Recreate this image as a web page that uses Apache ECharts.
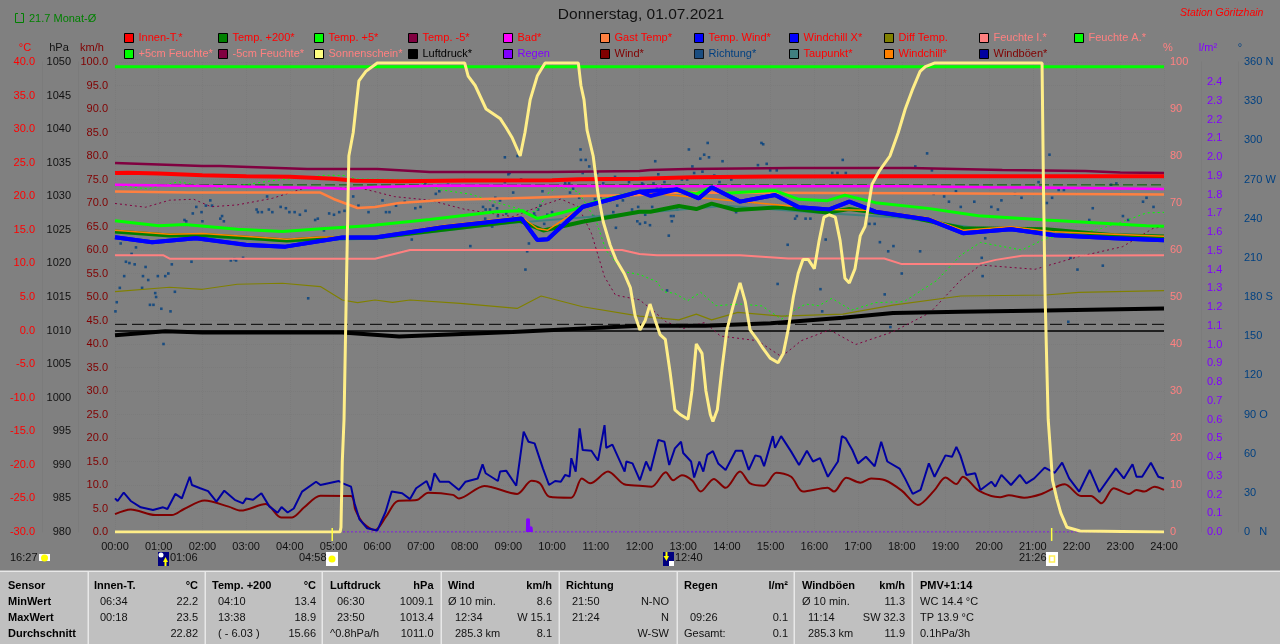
<!DOCTYPE html>
<html><head><meta charset="utf-8">
<style>html,body{margin:0;padding:0;background:#808080;overflow:hidden}#c{width:1280px;height:644px}</style>
<script src="https://cdn.jsdelivr.net/npm/echarts@6/dist/echarts.min.js"></script>
</head><body><div id="c"></div>
<script>
// Pairs are [hour of day, value]
const hourLabels=['00:00','01:00','02:00','03:00','04:00','05:00','06:00','07:00','08:00','09:00','10:00','11:00','12:00','13:00','14:00','15:00','16:00','17:00','18:00','19:00','20:00','21:00','22:00','23:00','24:00'];
const dirLabels={360:'360 N',270:'270 W',180:'180 S',90:'90 O',0:'0   N'};
const innenT=[[0,23.45],[.3,23.5],[1,23.4],[2,23.15],[3,23],[4,22.9],[5,22.6],[5.5,22.3],[6.5,22.25],[8,22.35],[10,22.4],[10.6,22.55],[12,22.6],[13.2,22.85],[15,22.95],[18,23],[21,23],[24,23]];
const temp200=[[0,14.75],[1.25,14.15],[2,14.25],[3.2,13.75],[3.93,13.4],[4.7,13.75],[5.95,13.85],[7.5,15],[9.27,16.35],[9.8,14.9],[10.7,16.2],[12,17.7],[12.25,17.7],[12.9,18.55],[13.3,18.1],[13.65,18.9],[14.2,17.95],[15.2,18.35],[16.3,17.6],[16.8,18.1],[18.2,16.9],[19.4,15.25],[21.3,15.1],[22.85,14.2],[24,14]];
const temp5=[[0,16.35],[1,15.6],[1.6,15.8],[2.8,15.1],[3.83,14.75],[4.8,15.2],[5.8,15.6],[7.2,16.55],[8.7,17.7],[9.3,17.85],[9.66,16.7],[10.2,17.5],[10.7,18.45],[11,19.2],[12,20.7],[12.7,21],[13.3,20.35],[13.65,21.35],[13.95,20.45],[15.1,20.85],[15.65,19.55],[16.3,19.35],[16.7,20.15],[17.4,19.05],[18.6,18.2],[19.75,17.1],[21.3,16.45],[23.6,15.6],[24,15.55]];
const tempM5=[[0,24.95],[1,24.75],[2,24.5],[2.4,24.5],[4.4,24.05],[6,24.05],[7.2,23.6],[9.9,23.6],[12,23.75],[12.25,23.9],[13.1,24.05],[15.5,24.2],[18.2,24.2],[20.3,23.9],[22.2,23.75],[23,23.55],[24,23.45]];
const bad=[[0,21.7],[2.4,21.5],[5,21.2],[5.33,21.1],[5.95,21.4],[7.5,21.6],[12,21.5],[18,21.5],[20,21.35],[21,21.3],[24,21.1]];
const gastTemp=[[0,20.7],[1.7,20.55],[4.7,20.55],[5,19.6],[5.55,18.25],[5.95,18.4],[6.5,19],[7.5,19.45],[9.1,19.7],[10.7,20.05],[12,20.2],[12.6,20.55],[18.4,20.45],[24,20.25]];
const tempWind=[[0,13.9],[.85,13.15],[1.85,13.75],[3,12.75],[3.9,12.5],[5.2,13.85],[5.95,13.85],[7.5,15.4],[9.3,16.7],[9.66,13.5],[9.9,13.6],[10.7,18.45],[12,20.7],[12.25,20.05],[12.86,21.05],[13.36,19.7],[13.65,21.35],[14.3,19.2],[15.1,20.2],[15.65,18.35],[16.34,18.05],[16.8,19.2],[17.4,17.7],[18.6,16.55],[19.4,14.5],[20.5,15.1],[21.5,14.2],[22.85,13.75],[24,13.45]];
const windchillX=[[0,13.9],[.85,13.15],[1.85,13.75],[3,12.8],[3.9,12.5],[5.2,13.85],[5.95,13.85],[7.5,15.4],[9.3,16.7],[9.66,13.5],[9.9,13.6],[10.7,18.4],[12,20.7],[12.86,21],[13.36,19.7],[13.65,21.3],[14.3,19.2],[15.1,20.2],[15.65,18.35],[16.34,18.05],[16.8,19.2],[17.4,17.7],[18.6,16.55],[19.4,14.5],[20.5,15.1],[21.5,14.2],[22.85,13.75],[24,13.45]];
const diffTemp=[[0,5.8],[1.25,6.45],[2,6.15],[2.8,6.9],[3.83,7.05],[4.7,6.55],[5.2,4.55],[5.55,4.15],[5.95,4.55],[6.35,4.2],[6.75,4.55],[7.9,4.05],[9.2,3.3],[9.75,5.15],[10.7,3.55],[12,2.15],[12.9,1.6],[13.3,2.45],[13.65,1.6],[14.25,2.7],[15.25,2.15],[16.65,2.45],[17.8,3.8],[19.35,5.15],[21.3,5.3],[22.05,5.7],[24,5.95]];
const feuchteI=[[0,58.9],[1.1,58.9],[1.25,58.15],[5.95,58.15],[6.75,60],[11.6,60],[12,59.15],[12.4,58.9],[14.3,58.9],[15.4,58.2],[17.6,58.2],[18,57],[19.75,57],[20.15,57.9],[20.75,58.8],[24,58.9]];
const feuchteA=[[0,99],[24,99]];
const feuchte5=[[0,73.8],[.75,73],[1.45,74.5],[2.4,73.1],[3.6,74.75],[4.8,75.9],[5.33,75.85],[5.5,75.1],[6.6,75],[7.05,74.2],[7.45,72.8],[8.15,71.85],[8.65,70.3],[9.35,68.5],[9.63,68.15],[9.9,72],[10.13,73.5],[10.6,72.4],[11,66.4],[11.23,60],[11.63,55.4],[12,54.8],[12.4,53.25],[12.55,51.1],[12.8,50.8],[13.1,49.2],[13.4,51],[13.75,48.15],[14.3,48.5],[14.8,48.1],[15.25,45.3],[15.55,47.2],[15.8,48.5],[16.1,48.15],[16.4,49.7],[16.85,47.2],[17.4,48.8],[18.05,49],[18.8,53.5],[19.35,58.9],[19.8,61.6],[20.75,60],[21.3,62.5],[22.45,64.25],[23.2,66.5],[23.6,67.9],[24,68]];
const feuchteM5=[[0,69.9],[.7,69.1],[1.25,70.6],[1.8,70.8],[2.2,69.2],[2.8,69.6],[3.6,71],[4.4,73.35],[5.65,73.1],[6.4,71.35],[7.2,70.6],[8,68.65],[9.1,67.1],[9.8,69.6],[10.2,70.85],[10.6,69.2],[10.9,63.55],[11.2,54.3],[11.45,50.4],[12,49.4],[12.1,48.65],[12.3,47.2],[12.6,44.75],[13,43.3],[13.5,44.6],[13.85,41.7],[14.7,40.7],[15.25,37.3],[15.7,40.7],[16.35,43],[16.95,39.9],[17.8,42.6],[18.65,46.7],[19.35,53.6],[19.8,56.8],[21.05,55.9],[22.05,58.6],[23.05,60.7],[23.75,64.6],[24,65]];
const sonne=[[0,0],[5.15,0],[5.17,1],[5.2,15],[5.24,24],[5.29,50],[5.35,80],[5.45,85],[5.58,96],[5.74,98],[6,99.8],[8,99.8],[8.08,97],[8.24,95],[8.49,90],[8.81,88],[8.95,86],[9.08,84],[9.27,80],[9.38,85],[9.5,92],[9.66,97],[9.84,99.8],[10.6,99.8],[10.66,95],[10.73,92],[10.8,85.5],[10.94,80],[11.05,72],[11.17,66],[11.33,61],[11.46,58],[11.65,55],[11.79,52],[11.9,46],[12.01,43],[12.13,45],[12.24,48.5],[12.36,45],[12.47,42],[12.59,41],[12.7,34],[12.81,26],[12.93,25],[13.11,24],[13.2,30],[13.3,40],[13.34,40],[13.43,38],[13.52,30],[13.62,25],[13.68,23.5],[13.78,26],[13.89,35],[14,43],[14.14,48],[14.3,53],[14.42,49],[14.53,43],[14.69,41],[14.83,39],[14.99,37],[15.17,36],[15.29,38],[15.4,43],[15.52,50],[15.63,55],[15.74,58],[15.86,58],[16,56],[16.11,62],[16.22,67],[16.34,67.5],[16.48,67],[16.59,62],[16.7,54],[16.8,53],[16.93,56],[17.05,63],[17.16,65],[17.32,74],[17.5,77],[17.73,80],[17.92,85],[18.08,90],[18.24,94],[18.42,98],[18.54,99],[18.76,99.8],[21.21,99.8],[21.24,75],[21.28,50],[21.32,35],[21.35,24],[21.45,11],[21.55,7],[21.64,4],[21.78,1],[22.08,.2],[24,0]];
const luftdruck=[[0,1009.3],[1.15,1009.9],[2,1009.7],[5.2,1009.7],[6.5,1009.1],[9.1,1009.8],[12,1010.7],[13.5,1010.7],[15,1011.1],[16.65,1011.9],[17.8,1012.6],[19.35,1012.8],[21.3,1013],[24,1013.3]];
const regenBase=[[0,0],[24,0]];
const regenSpike=[[9.41,0],[9.42,.07],[9.48,.07],[9.49,.027],[9.54,.027],[9.55,0]];
const wind=[[0,3.8],[.36,4.8],[.92,3.6],[1.3,3.6],[1.58,4.9],[2.05,6.7],[2.6,5.4],[2.88,4.55],[3.45,5.95],[3.8,3.1],[4.05,3.1],[4.33,5.25],[4.7,7.7],[5.4,7.65],[5.5,4.7],[5.68,1.85],[5.95,.4],[6.2,3.25],[6.47,6.6],[6.9,6.8],[7.17,8.35],[7.73,7.9],[7.87,7.15],[8.45,9.8],[9.2,8.1],[9.53,10.9],[9.72,10.35],[9.94,7.5],[10.44,7.3],[10.68,11.4],[10.87,10.35],[11.28,12.85],[11.65,10.15],[12,9.85],[12.28,9.65],[12.6,12.7],[12.77,11],[12.97,12.1],[13.2,11],[13.4,8.6],[13.7,11.3],[13.97,9.4],[14.3,12.85],[14.53,10.35],[14.85,9.85],[15.13,12.6],[15.47,11.75],[15.74,8.6],[16.3,9.4],[16.45,8.6],[16.73,11.55],[17.05,10.5],[17.3,11.4],[17.62,11],[18,8.8],[18.37,5.75],[18.74,8.8],[19,11.6],[19.25,10.2],[19.4,11.75],[19.76,8.8],[20.25,7.4],[20.45,7.8],[20.8,7.3],[21.2,8.1],[21.73,10.15],[22.1,7.65],[22.33,7.65],[22.57,6.1],[22.85,9.3],[23.2,8.1],[23.37,8.95],[23.55,8.6],[23.78,9.65],[24,8.95]];
const windboeen=[[0,7.15],[.06,6.6],[.2,8.4],[.36,6.6],[.59,5.25],[.87,4.7],[1.1,5.25],[1.2,4.9],[1.38,8.1],[1.53,7.15],[1.71,11.75],[1.76,10],[1.95,9.3],[2.13,8.7],[2.32,6.45],[2.5,8.8],[2.74,6.85],[2.93,6.1],[3,7.15],[3.16,6.85],[3.35,8.25],[3.53,5.45],[3.72,4.1],[3.81,5.3],[3.95,4.15],[4.09,5],[4.28,8.6],[4.6,10.7],[4.7,10],[5.12,10.85],[5.21,10.35],[5.4,9.65],[5.48,6.1],[5.59,2.75],[5.77,.8],[6,.3],[6.19,4.25],[6.33,8.6],[6.57,8.25],[6.75,7],[6.89,9.3],[7.13,10.85],[7.22,8.8],[7.31,12.5],[7.43,10.7],[7.64,10.7],[7.87,8.95],[8.02,10.7],[8.3,11.4],[8.41,14.4],[8.48,12.5],[8.76,10.85],[8.81,12.85],[8.95,13.05],[9.18,9.85],[9.35,21.35],[9.46,19.2],[9.6,18.85],[9.79,13.55],[9.93,10],[10.07,10.85],[10.2,10.7],[10.3,12.15],[10.4,11.8],[10.44,15.7],[10.54,12.85],[10.63,22.05],[10.7,17.45],[10.9,17.3],[11.05,15.2],[11.2,22.75],[11.24,17.9],[11.38,18.6],[11.66,12.85],[11.7,15],[11.84,14.6],[12.01,11],[12.15,15],[12.25,13],[12.43,19.6],[12.57,19.2],[12.68,14.25],[12.81,17.8],[12.95,19.2],[13,16.8],[13.18,15],[13.25,11.6],[13.37,15],[13.46,12.85],[13.55,16.4],[13.68,17.2],[13.8,14.6],[13.97,13.2],[14.2,17.3],[14.35,17.3],[14.5,13.2],[14.65,16.3],[14.77,16],[14.85,14],[15.05,20.4],[15.1,17.9],[15.24,20.4],[15.47,17.1],[15.65,14.25],[15.83,17.3],[15.97,15],[16.13,15.7],[16.31,11.75],[16.54,15],[16.63,20.4],[16.72,19.9],[16.87,17.45],[17,14.6],[17.18,16],[17.38,14],[17.53,19.2],[17.67,15],[17.95,13.5],[18.08,11.3],[18.25,8.1],[18.43,8.95],[18.62,14.6],[18.75,11.75],[19,16.3],[19.15,16],[19.25,18.1],[19.34,16.3],[19.48,12.15],[19.68,12.5],[19.8,8.95],[20.05,10.7],[20.14,9.65],[20.28,12.15],[20.5,10],[20.7,12.15],[20.85,10.35],[21.03,11.4],[21.27,13.7],[21.5,12.6],[21.67,14.75],[21.83,11.4],[22.06,8.6],[22.3,13.2],[22.52,8.5],[22.9,13.55],[23.08,11.4],[23.28,14.4],[23.37,11.75],[23.5,11.75],[23.7,14.75],[23.87,11.75],[24,11.4]];
const taupunkt=[[0,14.6],[4,13.3],[6,13.7],[9,16],[12,17.5],[14,18.6],[16,17.6],[18,16.8],[20,15],[24,13.9]];
const windchill=[[0,14.95],[1.25,14.35],[2,14.45],[3.2,13.95],[3.93,13.6],[4.7,13.95],[5.2,13.95],[5.95,14],[7.5,15.65],[9.3,16.95],[9.66,15.2],[9.9,14.95],[10.7,18.45],[12,20.6],[16.34,18.05],[17.4,17.9],[18.6,16.8],[19.4,14.95],[20.5,15.45],[21.5,14.7],[22.85,14.35],[24,14.05]];
const richtung=[[.01,169],[.04,176],[.11,187],[.13,221],[.21,196],[.25,207],[.33,206],[.38,213],[.45,205],[.48,218],[.62,187],[.64,196],[.7,203],[.76,193],[.8,174],[.88,174],[.92,183],[.94,180],[.98,196],[1.06,171],[1.11,144],[1.15,196],[1.22,198],[1.27,169],[1.3,205],[1.37,184],[1.59,239],[1.63,238],[1.75,207],[1.78,244],[1.86,249],[1.98,245],[2,238],[2.08,250],[2.18,254],[2.22,250],[2.41,240],[2.45,242],[2.49,238],[2.65,208],[2.73,209],[2.77,208],[2.93,210],[3.24,247],[3.27,245],[3.36,245],[3.48,257],[3.52,247],[3.6,245],[3.79,249],[3.91,248],[3.99,245],[4.11,245],[4.23,243],[4.36,246],[4.42,179],[4.58,239],[4.64,240],[4.78,231],[4.9,244],[5.01,243],[5.13,245],[5.25,246],[5.45,257],[5.57,250],[5.8,245],[6.12,254],[6.2,245],[6.28,245],[6.43,250],[6.63,253],[6.79,224],[6.87,248],[6.99,249],[7.1,267],[7.34,259],[7.42,261],[7.62,266],[8.13,219],[8.42,249],[8.47,240],[8.48,247],[8.58,247],[8.6,235],[8.63,234],[8.65,250],[8.7,256],[8.74,248],[8.76,242],[8.81,254],[8.92,287],[8.92,268],[8.95,244],[9,274],[9.03,275],[9.11,260],[9.21,288],[9.29,270],[9.39,201],[9.43,215],[9.47,221],[9.59,244],[9.61,242],[9.68,247],[9.73,250],[9.78,261],[9.82,236],[9.89,243],[10,245],[10.18,235],[10.3,267],[10.34,241],[10.39,267],[10.41,260],[10.48,263],[10.62,256],[10.65,293],[10.66,285],[10.7,275],[10.77,285],[10.85,280],[10.94,242],[10.98,255],[11.03,275],[11.1,256],[11.17,267],[11.4,245],[11.44,272],[11.46,233],[11.49,250],[11.56,258],[11.62,254],[11.76,268],[11.83,270],[11.83,247],[11.95,238],[11.97,249],[12.01,236],[12.06,267],[12.09,266],[12.13,243],[12.13,237],[12.24,235],[12.29,249],[12.32,267],[12.36,284],[12.4,264],[12.43,274],[12.49,264],[12.57,268],[12.59,260],[12.63,185],[12.67,227],[12.72,242],[12.74,238],[12.78,242],[12.86,247],[12.97,270],[13.09,270],[13.13,293],[13.21,280],[13.25,275],[13.39,286],[13.44,276],[13.48,289],[13.56,298],[13.59,287],[13.71,273],[13.83,268],[13.9,284],[14.1,270],[14.21,245],[14.71,281],[14.79,298],[14.83,297],[14.91,282],[14.99,277],[15.14,277],[15.16,190],[15.39,220],[15.56,240],[15.6,242],[15.8,240],[15.91,240],[16.14,186],[16.18,169],[16.26,224],[16.41,275],[16.53,275],[16.65,285],[16.72,275],[17.26,236],[17.38,236],[17.5,222],[17.61,182],[17.69,215],[17.74,157],[17.81,219],[18,198],[18.31,280],[18.42,215],[18.58,290],[18.69,277],[18.73,259],[18.97,257],[19.08,253],[19.24,261],[19.35,249],[19.66,253],[19.83,210],[19.85,196],[19.91,225],[20.05,249],[20.2,247],[20.28,254],[20.59,259],[20.74,256],[21.13,268],[21.17,264],[21.32,252],[21.38,289],[21.44,256],[21.59,262],[21.71,262],[21.81,161],[21.86,210],[22.02,201],[22.29,239],[22.37,248],[22.6,204],[22.79,266],[22.91,267],[23.06,242],[23.18,239],[23.52,253],[23.6,256],[23.76,249]];
const monatMittel=[[0,21.7],[24,21.7]];
const druckDash=[[0,1010.93],[24,1010.93]];
const druckLinie=[[0,1009.93],[24,1009.93]];
const aufgang=[[4.97,.85],[4.97,-1.9]];
const untergang=[[21.43,.85],[21.43,-1.9]];

const RED='#ff0000',PINK='#ff8080',DK='#800000',PURP='#8000ff',NAVY='#004080',SUN='#ffee88';
const FONT='"Liberation Sans",Arial,sans-serif';

const legendCols=[
 [['Innen-T.*',RED,RED],['+5cm Feuchte*','#00ff00',PINK]],
 [['Temp. +200*','#008000',RED],['-5cm Feuchte*','#800040',PINK]],
 [['Temp. +5*','#00ff00',RED],['Sonnenschein*','#ffff80',PINK]],
 [['Temp. -5*','#800040',RED],['Luftdruck*','#000000','#000000']],
 [['Bad*','#ff00ff',RED],['Regen',PURP,PURP]],
 [['Gast Temp*','#ff8040',RED],['Wind*',DK,DK]],
 [['Temp. Wind*','#0000ff',RED],['Richtung*',NAVY,NAVY]],
 [['Windchill X*','#0000ff',RED],['Taupunkt*','#408080',RED]],
 [['Diff Temp.','#808000',RED],['Windchill*','#ff8000',RED]],
 [['Feuchte I.*',PINK,PINK],['Windböen*','#0000a0',DK]],
 [['Feuchte A.*','#00ff00',PINK]]
];
const legendX=[124,218,314,408,503,600,694,789,884,979,1074];

const tableHeads=[[8,'Sensor'],[94,'Innen-T.'],[212,'Temp. +200'],[330,'Luftdruck'],[448,'Wind'],[566,'Richtung'],[684,'Regen'],[802,'Windböen'],[920,'PMV+1:14']];
const tableUnits=[[198,'°C'],[316,'°C'],[433.5,'hPa'],[552,'km/h'],[788,'l/m²'],[905,'km/h']];
const rowNames=['MinWert','MaxWert','Durchschnitt'];
const tableLeft=[[100,0,'06:34'],[100,1,'00:18'],[218,0,'04:10'],[218,1,'13:38'],[218,2,'( - 6.03 )'],[337,0,'06:30'],[337,1,'23:50'],[330,2,'^0.8hPa/h'],[448,0,'Ø 10 min.'],[455,1,'12:34'],[455,2,'285.3 km'],[572,0,'21:50'],[572,1,'21:24'],[690,1,'09:26'],[684,2,'Gesamt:'],[802,0,'Ø 10 min.'],[808,1,'11:14'],[808,2,'285.3 km'],[920,0,'WC 14.4 °C'],[920,1,'TP 13.9 °C'],[920,2,'0.1hPa/3h']];
const tableRight=[[198,0,'22.2'],[198,1,'23.5'],[198,2,'22.82'],[316,0,'13.4'],[316,1,'18.9'],[316,2,'15.66'],[433.5,0,'1009.1'],[433.5,1,'1013.4'],[433.5,2,'1011.0'],[552,0,'8.6'],[552,1,'W 15.1'],[552,2,'8.1'],[669,0,'N-NO'],[669,1,'N'],[669,2,'W-SW'],[788,1,'0.1'],[788,2,'0.1'],[905,0,'11.3'],[905,1,'SW 32.3'],[905,2,'11.9']];
const tableDividers=[88,205,322,441,559,677,794,912];
const timeMarks=[[10,'16:27'],[170,'01:06'],[299,'04:58'],[675,'12:40'],[1019,'21:26']];

function txt(x,y,t,o){o=o||{};return {type:'text',silent:true,x:x,y:y,z:o.z||50,style:{text:t,fill:o.c||'#000',font:(o.w||'normal')+' '+(o.i?'italic ':'')+(o.s||11)+'px '+FONT,textAlign:o.a||'left',textVerticalAlign:'middle',textBaseline:'middle'}};}
function rect(x,y,w,h,fill,o){o=o||{};return {type:'rect',silent:true,z:o.z||49,shape:{x:x,y:y,width:w,height:h},style:{fill:fill,stroke:o.stroke||null,lineWidth:o.lw||0}};}
const rowY=[602,618,634];
const els=[];
els.push(rect(0,572,1280,72,'#c0c0c0'));
els.push(rect(0,570.5,1280,1.5,'#e8e8e8'));
tableDividers.forEach(x=>els.push(rect(x-.5,572,1.5,72,'#e8e8e8')));
tableHeads.forEach(h=>els.push(txt(h[0],586,h[1],{w:'bold'})));
tableUnits.forEach(u=>els.push(txt(u[0],586,u[1],{w:'bold',a:'right'})));
rowNames.forEach((n,i)=>els.push(txt(8,rowY[i],n,{w:'bold'})));
tableLeft.forEach(r=>els.push(txt(r[0],rowY[r[1]],r[2],{c:'#111'})));
tableRight.forEach(r=>els.push(txt(r[0],rowY[r[1]],r[2],{a:'right',c:'#111'})));
els.push(txt(641,15,'Donnerstag, 01.07.2021',{s:15.5,a:'center',c:'#111'}));
els.push(txt(1180,13,'Station Göritzhain',{s:10.5,i:true,c:RED}));
els.push(rect(15.5,13.5,8,9,'none',{stroke:'#008000',lw:1}));
els.push(rect(18,12,3,3,'#808080'));
els.push(txt(29,18.5,'21.7 Monat-Ø',{c:'#008000'}));
timeMarks.forEach(m=>els.push(txt(m[0],558,m[1],{c:'#111'})));
els.push(rect(39,554,11,7,'#ffffff'));
els.push({type:'circle',silent:true,z:51,shape:{cx:44.5,cy:558,r:3.5},style:{fill:'#ffff00'}});
els.push(rect(158,552,11,14,'#000080'));
els.push({type:'circle',silent:true,z:51,shape:{cx:161,cy:555,r:2.5},style:{fill:'#ffffff'}});
els.push({type:'polygon',silent:true,z:51,shape:{points:[[165.5,557],[168,562],[163,562]]},style:{fill:'#ffff00'}});
els.push(rect(164.5,561,2,5,'#ffff00',{z:51}));
els.push(rect(326,552,12,14,'#ffffff'));
els.push({type:'circle',silent:true,z:51,shape:{cx:332,cy:559,r:3.5},style:{fill:'#ffff00'}});
els.push(rect(663,552,11,14,'#000080'));
els.push(rect(665.5,552,2,5,'#ffff00',{z:51}));
els.push({type:'polygon',silent:true,z:51,shape:{points:[[663.5,556],[669,556],[666.5,561]]},style:{fill:'#ffff00'}});
els.push(rect(669,561,5,5,'#ffffff',{z:51}));
els.push(rect(1046,552,12,14,'#ffffff'));
els.push(rect(1049.5,556,5,6,'none',{z:51,stroke:'#ffee55',lw:1.5}));

function line(name,data,yAxisIndex,color,width,extra){return Object.assign({name:name,type:'line',data:data,yAxisIndex:yAxisIndex,showSymbol:false,symbol:'none',silent:true,lineStyle:{color:color,width:width},itemStyle:{color:color}},extra||{});}
const series=[
 line('Monat-Mittel',monatMittel,0,'#006000',1,{lineStyle:{color:'#006000',width:1,type:[10,4]}}),
 line('Druck A',druckDash,1,'#000',1,{lineStyle:{color:'#000',width:1,type:[12,5]}}),
 line('Druck B',druckLinie,1,'#000',1.5),
 {name:'Richtung*',type:'scatter',data:richtung,yAxisIndex:5,symbol:'rect',symbolSize:2.6,silent:true,itemStyle:{color:NAVY}},
 line('+5cm Feuchte*',feuchte5,3,'#00ff00',1,{lineStyle:{color:'#00ff00',width:1,type:[2,3]}}),
 line('-5cm Feuchte*',feuchteM5,3,'#800040',1,{lineStyle:{color:'#800040',width:1,type:[2,3]}}),
 line('Temp. -5*',tempM5,0,'#800040',2.5),
 line('Diff Temp.',diffTemp,0,'#808000',1.2),
 line('Feuchte I.*',feuchteI,3,PINK,2),
 line('Gast Temp*',gastTemp,0,'#ff8040',2.5),
 line('Innen-T.*',innenT,0,RED,4),
 line('Bad*',bad,0,'#ff00ff',2.5),
 line('Temp. +5*',temp5,0,'#00ff00',3),
 line('Taupunkt*',taupunkt,0,'#408080',2),
 line('Temp. +200*',temp200,0,'#008000',4),
 line('Windchill*',windchill,0,'#ff8000',1.5),
 line('Windchill X*',windchillX,0,'#0000ff',4),
 line('Temp. Wind*',tempWind,0,'#0000ff',4),
 line('Luftdruck*',luftdruck,1,'#000',4),
 line('Feuchte A.*',feuchteA,3,'#00ff00',3),
 line('Regen',regenBase,4,PURP,1,{lineStyle:{color:PURP,width:1,type:[2,2]}}),
 line('Regen Spitze',regenSpike,4,PURP,1,{areaStyle:{color:PURP,opacity:1}}),
 line('Wind*',wind,2,DK,2,{smooth:.3}),
 line('Windböen*',windboeen,2,'#0000a0',2),
 line('Sonnenschein*',sonne,3,SUN,3),
 line('Aufgang',aufgang,2,'#ffff44',1.5,{clip:false}),
 line('Untergang',untergang,2,'#ffff44',1.5,{clip:false})
];
const faint='#7b7b7b';
function yA(o){return Object.assign({type:'value',show:true,axisTick:{show:false},splitLine:{show:false},axisLine:{show:true,onZero:false,lineStyle:{color:faint}},scale:false,nameLocation:'end',nameGap:9},o);}
const lab=(c,f)=>({color:c,fontSize:11,fontFamily:FONT,margin:7,showMaxLabel:true,formatter:f});
const nm=(c,pad,s)=>({color:c,fontSize:s||11,fontFamily:FONT,align:'center',padding:pad});
const option={
 backgroundColor:'#808080',animation:false,
 textStyle:{fontFamily:FONT},
 grid:{left:115,right:116,top:62,bottom:112,containLabel:false},
 legend:legendCols.map((col,i)=>({left:legendX[i],top:32.5,orient:'vertical',itemWidth:9,itemHeight:9,itemGap:5,padding:0,selectedMode:false,textStyle:{fontSize:11,fontFamily:FONT},
   data:col.map(c=>({name:c[0],icon:'rect',itemStyle:{color:c[1],borderColor:'#000',borderWidth:1},textStyle:{color:c[2],fontSize:11,fontFamily:FONT,padding:[0,0,0,0]}}))})),
 xAxis:{type:'value',min:0,max:24,interval:1,axisLine:{show:false},axisTick:{show:false},
   splitLine:{show:true,lineStyle:{color:faint,type:'dotted',width:1}},
   axisLabel:{color:'#111',fontSize:11,fontFamily:FONT,margin:9,hideOverlap:false,showMinLabel:true,showMaxLabel:true,formatter:v=>hourLabels[v]}},
 yAxis:[
  yA({name:'°C',position:'left',offset:73,min:-30,max:40,interval:5,axisLabel:lab(RED,v=>v.toFixed(1)),nameTextStyle:nm(RED,[0,34,0,0])}),
  yA({name:'hPa',position:'left',offset:37,min:980,max:1050,interval:5,axisLabel:lab('#111',v=>String(v)),nameTextStyle:nm('#111',[0,38,0,0])}),
  yA({name:'km/h',position:'left',offset:0,min:0,max:100,interval:5,axisLine:{show:false},splitLine:{show:true,lineStyle:{color:faint,type:'dotted',width:1}},axisLabel:lab(DK,v=>v.toFixed(1)),nameTextStyle:nm(DK,[0,46,0,0])}),
  yA({name:'%',position:'right',offset:0,min:0,max:100,interval:10,axisLine:{show:false},axisLabel:Object.assign(lab(PINK,v=>String(v)),{margin:6}),nameTextStyle:nm(PINK,[0,0,0,8])}),
  yA({name:'l/m²',position:'right',offset:37,min:0,max:2.5067,interval:.1,axisLabel:Object.assign(lab(PURP,v=>v>2.45?'':v.toFixed(1)),{margin:6,showMaxLabel:false}),nameTextStyle:nm(PURP,[0,0,0,14])}),
  yA({name:'°',position:'right',offset:74,min:0,max:360,interval:30,axisLabel:Object.assign(lab(NAVY,v=>dirLabels[v]!==undefined?dirLabels[v]:String(v)),{margin:6}),nameTextStyle:nm(NAVY,[0,0,0,4])})
 ],
 series:series,
 graphic:{elements:els}
};
echarts.init(document.getElementById('c'),null,{renderer:'canvas',width:1280,height:644}).setOption(option);
</script></body></html>
